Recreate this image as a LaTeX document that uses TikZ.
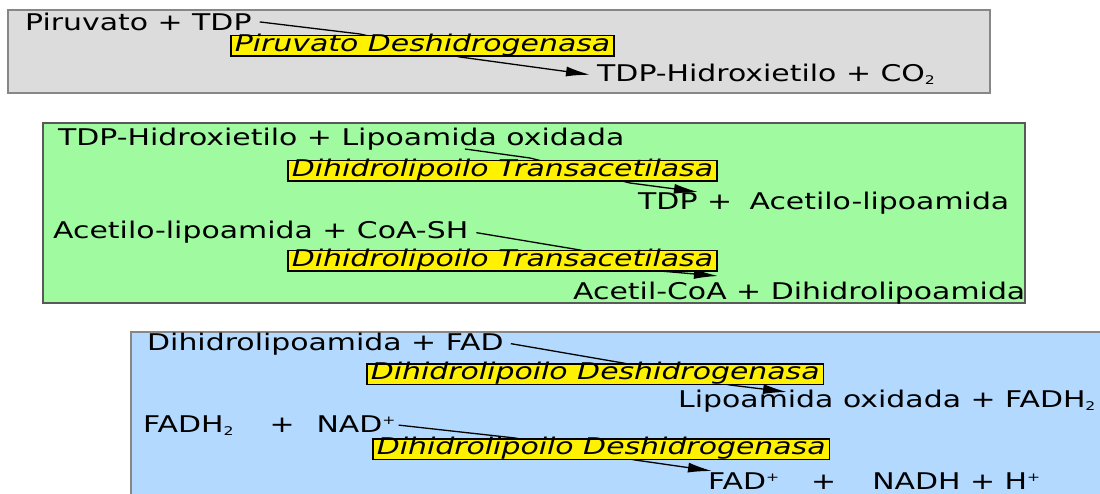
\documentclass[tikz,border=0pt]{standalone}
\usepackage{fontspec}
\setmainfont{DejaVu Sans}[FakeStretch=1.3]
\usetikzlibrary{arrows.meta}

\definecolor{cinza}{RGB}{220,220,220}
\definecolor{verde}{RGB}{160,250,160}
\definecolor{azulclaro}{RGB}{179,217,255}
\definecolor{borda}{RGB}{135,135,135}

\newcommand{\sbx}[1]{\raisebox{-3pt}{\fontsize{12}{12}\selectfont #1}}
\newcommand{\spx}[1]{\raisebox{8pt}{\fontsize{12}{12}\selectfont #1}}

\tikzset{
  reac/.style={anchor=base west, inner sep=0pt, font=\fontsize{23}{26}\selectfont},
  enzima/.style={anchor=north west, draw=black, line width=1.5pt, fill=yellow,
    inner xsep=4pt, inner ysep=0pt, text height=16pt, text depth=4.5pt,
    font=\fontsize{23}{26}\selectfont\itshape},
  seta/.style={-{Latex[length=24pt,width=10pt]}, line width=1.3pt},
}

\begin{document}
\begin{tikzpicture}[x=1pt,y=-1pt]
    \useasboundingbox (0,0) rectangle (1100,494);

    % Caixas de fundo
    \draw[borda, fill=cinza, line width=2pt] (8,10) rectangle (990,93);
    \draw[black!65, fill=verde, line width=1.5pt] (43,123) rectangle (1025,303);
    \draw[borda, fill=azulclaro, line width=1.5pt] (131,332) rectangle (1130,530);

    % Piruvato deshidrogenasa
    \node[reac] (r1) at (25,30.5) {Piruvato + TDP};
    \node[reac] (p1) at (597,82) {TDP-Hidroxietilo + CO\sbx{2}};
    \coordinate (a1) at (360,34);
    \coordinate (b1) at (460,57);
    \draw[seta] ([xshift=8pt]r1.east) -- (a1) -- (b1) -- ([xshift=-7pt]p1.west);
    \node[enzima] (e1) at (230,35) {Piruvato Deshidrogenasa};

    % Transacetilasa
    \node[reac] (r2) at (58,146) {TDP-Hidroxietilo + Lipoamida oxidada};
    \node[reac] (p2) at (638,210) {TDP +\hspace{8pt} Acetilo-lipoamida};
    \coordinate (s2) at (465,149);
    \coordinate (a2) at (530,158);
    \coordinate (b2) at (630,183);
    \coordinate (t2) at (698,192);
    \draw[seta] (s2) -- (a2) -- (b2) -- (t2);
    \node[enzima] (e2) at (287,160) {Dihidrolipoilo Transacetilasa};

    \node[reac] (r3) at (53,239) {Acetilo-lipoamida + CoA-SH};
    \node[reac] (p3) at (573,300) {Acetil-CoA + Dihidrolipoamida};
    \coordinate (a3) at (580,250);
    \coordinate (b3) at (660,271);
    \coordinate (t3) at (718,276);
    \draw[seta] ([xshift=8pt]r3.east) -- (a3) -- (b3) -- (t3);
    \node[enzima] (e3) at (287,250) {Dihidrolipoilo Transacetilasa};

    % Deshidrogenasa
    \node[reac] (r4) at (147,350) {Dihidrolipoamida + FAD};
    \node[reac] (p4) at (678,407) {Lipoamida oxidada + FADH\sbx{2}};
    \coordinate (a4) at (623,363);
    \coordinate (b4) at (730,385);
    \coordinate (t4) at (787,392);
    \draw[seta] ([xshift=7pt]r4.east) -- (a4) -- (b4) -- (t4);
    \node[enzima] (e4) at (366,363) {Dihidrolipoilo Deshidrogenasa};

    \node[reac] (r5) at (143,432) {FADH\sbx{2}\hspace{36pt}+\hspace{22pt}NAD\spx{+}};
    \node[reac] (p5) at (708,489) {FAD\spx{+}\hspace{32pt}+\hspace{36pt}NADH + H\spx{+}};
    \coordinate (a5) at (515,438);
    \coordinate (b5) at (635,460);
    \coordinate (t5) at (712,471);
    \draw[seta] ([xshift=3pt]r5.east) -- (a5) -- (b5) -- (t5);
    \node[enzima] (e5) at (372,438) {Dihidrolipoilo Deshidrogenasa};

\end{tikzpicture}
\end{document}
